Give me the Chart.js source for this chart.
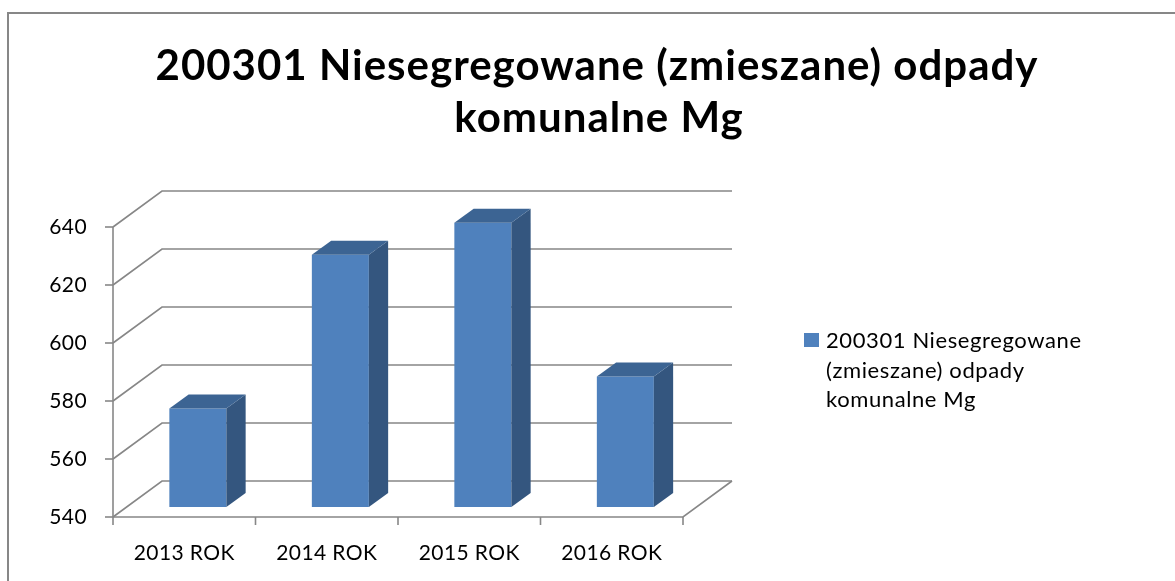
<!DOCTYPE html>
<html>
<head>
<meta charset="utf-8">
<script src="https://cdn.jsdelivr.net/npm/chart.js@4.4.1/dist/chart.umd.min.js"></script>
<style>
  html, body { margin: 0; padding: 0; background: #ffffff; overflow: hidden; }
  canvas { display: block; }
</style>
</head>
<body>
<canvas id="c" width="1175" height="581"></canvas>
<script>
// ---- data ----
const categories = ['2013 ROK', '2014 ROK', '2015 ROK', '2016 ROK'];
const values = [574, 627, 638, 585];
const seriesName = '200301 Niesegregowane (zmieszane) odpady komunalne Mg';
const titleLines = ['200301 Niesegregowane (zmieszane) odpady', 'komunalne Mg'];
const legendLines = ['200301 Niesegregowane', '(zmieszane) odpady', 'komunalne Mg'];
const yMin = 540, yMax = 640, yStep = 20;

// ---- 3D geometry ----
const WALL_DX = 49, WALL_DY = -36;       // depth of the plot box
const BAR_OFF_X = 13.6, BAR_OFF_Y = -10; // depth position of bar front faces
const BAR_DX = 19.3, BAR_DY = -14;       // bar depth
const GRID = '#878787';
const FONT = 'Lato, "Open Sans", "Liberation Sans", sans-serif';

const threeD = {
  id: 'threeD',
  beforeDraw(chart) {
    const ctx = chart.ctx;
    ctx.letterSpacing = '0.4px';
    ctx.save();
    ctx.strokeStyle = GRID;
    ctx.lineWidth = 2;
    ctx.beginPath();
    ctx.moveTo(8, 581);
    ctx.lineTo(8, 13);
    ctx.lineTo(1175, 13);
    ctx.stroke();
    ctx.restore();
  },
  beforeDatasetsDraw(chart) {
    const ctx = chart.ctx, ys = chart.scales.y, xs = chart.scales.x;
    const L = xs.left, R = xs.right, B = ys.bottom;
    ctx.save();
    ctx.strokeStyle = GRID;
    ctx.lineWidth = 1.6;
    for (let v = yMin; v <= yMax; v += yStep) {
      const y = ys.getPixelForValue(v);
      ctx.beginPath();
      ctx.moveTo(L, y);
      ctx.lineTo(L + WALL_DX, y + WALL_DY);
      ctx.lineTo(R + WALL_DX, y + WALL_DY);
      ctx.stroke();
      ctx.beginPath();
      ctx.moveTo(L - 8, y);
      ctx.lineTo(L, y);
      ctx.stroke();
    }
    ctx.beginPath();
    ctx.moveTo(L, ys.getPixelForValue(yMax));
    ctx.lineTo(L, B);
    ctx.stroke();
    ctx.beginPath();
    ctx.moveTo(L, B);
    ctx.lineTo(R, B);
    ctx.lineTo(R + WALL_DX, B + WALL_DY);
    ctx.stroke();
    const n = categories.length;
    for (let i = 0; i <= n; i++) {
      const x = L + (R - L) * i / n;
      ctx.beginPath();
      ctx.moveTo(x, B);
      ctx.lineTo(x, B + 8);
      ctx.stroke();
    }
    ctx.restore();
    ctx.save();
    ctx.translate(BAR_OFF_X, BAR_OFF_Y);
  },
  afterDatasetsDraw(chart) {
    const ctx = chart.ctx, ys = chart.scales.y;
    const b = ys.getPixelForValue(yMin);
    const meta = chart.getDatasetMeta(0);
    meta.data.forEach(bar => {
      const l = bar.x - bar.width / 2, r = bar.x + bar.width / 2;
      const t = bar.y;
      ctx.fillStyle = '#34567f';
      ctx.beginPath();
      ctx.moveTo(r, t);
      ctx.lineTo(r + BAR_DX, t + BAR_DY);
      ctx.lineTo(r + BAR_DX, b + BAR_DY);
      ctx.lineTo(r, b);
      ctx.closePath();
      ctx.fill();
      ctx.fillStyle = '#3c6493';
      ctx.beginPath();
      ctx.moveTo(l, t);
      ctx.lineTo(l + BAR_DX, t + BAR_DY);
      ctx.lineTo(r + BAR_DX, t + BAR_DY);
      ctx.lineTo(r, t);
      ctx.closePath();
      ctx.fill();
    });
    ctx.restore();
  },
  afterDraw(chart) {
    const ctx = chart.ctx;
    ctx.save();
    ctx.fillStyle = '#000000';
    ctx.letterSpacing = '1px';
    ctx.font = 'bold 42px ' + FONT;
    ctx.textAlign = 'center';
    ctx.textBaseline = 'alphabetic';
    ctx.fillText(titleLines[0], 597, 80);
    ctx.fillText(titleLines[1], 599, 132);
    ctx.fillStyle = '#4f81bd';
    ctx.fillRect(804, 333, 15, 14);
    ctx.fillStyle = '#000000';
    ctx.letterSpacing = '0.6px';
    ctx.font = '22px ' + FONT;
    ctx.textAlign = 'left';
    legendLines.forEach((s, i) => ctx.fillText(s, 826, 348 + i * 29.5));
    ctx.restore();
  }
};

new Chart(document.getElementById('c'), {
  type: 'bar',
  data: {
    labels: categories,
    datasets: [{
      label: seriesName,
      data: values,
      backgroundColor: '#4f81bd',
      borderWidth: 0,
      categoryPercentage: 1.0,
      barPercentage: 0.4
    }]
  },
  options: {
    responsive: false,
    animation: false,
    events: [],
    layout: { padding: { left: 0, top: 227, right: 492, bottom: 0 } },
    plugins: { legend: { display: false }, title: { display: false }, tooltip: { enabled: false } },
    scales: {
      x: {
        grid: { display: false },
        border: { display: false },
        ticks: { color: '#000', font: { family: FONT, size: 21 }, padding: 16, maxRotation: 0, autoSkip: false },
        afterFit(s) { s.height = 64; }
      },
      y: {
        min: yMin, max: yMax,
        grid: { display: false },
        border: { display: false },
        ticks: { stepSize: yStep, color: '#000', font: { family: FONT, size: 21 }, padding: 18 },
        afterFit(s) { s.width = 113; }
      }
    }
  },
  plugins: [threeD]
});
</script>
</body>
</html>
